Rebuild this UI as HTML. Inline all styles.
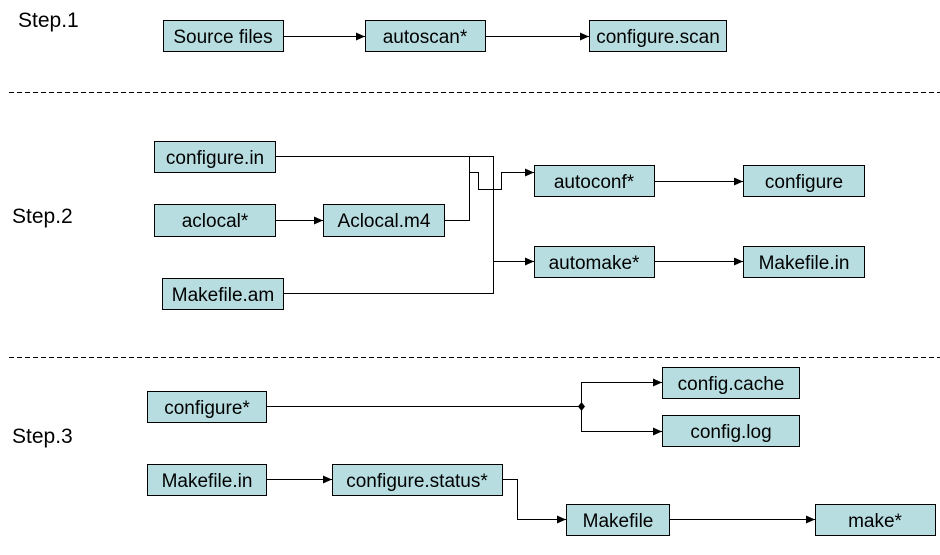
<!DOCTYPE html>
<html><head><meta charset="utf-8"><style>
html,body{margin:0;padding:0;background:#fff;width:940px;height:555px;overflow:hidden}
text{font-family:"Liberation Sans",Arial,sans-serif}
</style></head><body>
<svg width="940" height="555" viewBox="0 0 940 555" xmlns="http://www.w3.org/2000/svg">
<defs>
<marker id="a" markerWidth="10" markerHeight="8" refX="9" refY="4" orient="auto" markerUnits="userSpaceOnUse">
<path d="M0,0 L9,4 L0,8 z" fill="#000"/></marker>
</defs>
<g font-size="21" fill="#000">
<text x="18" y="27">Step.1</text>
<text x="12" y="223">Step.2</text>
<text x="12" y="443">Step.3</text>
</g>
<g stroke="#000" stroke-width="1" stroke-dasharray="5,3">
<line x1="9" y1="92.5" x2="940" y2="92.5"/>
<line x1="9" y1="357.5" x2="940" y2="357.5"/>
</g>
<g fill="#b7dde0" stroke="#000" stroke-width="1">
<rect x="163.5" y="20.5" width="120" height="31"/>
<rect x="365.5" y="20.5" width="120" height="31"/>
<rect x="589.5" y="20.5" width="137" height="31"/>
<rect x="154.5" y="141.5" width="121" height="31"/>
<rect x="154.5" y="204.5" width="121" height="32"/>
<rect x="323.5" y="204.5" width="121" height="32"/>
<rect x="162.5" y="278.5" width="121" height="31"/>
<rect x="534.5" y="165.5" width="120" height="31"/>
<rect x="743.5" y="165.5" width="121" height="31"/>
<rect x="534.5" y="246.5" width="120" height="31"/>
<rect x="743.5" y="246.5" width="121" height="31"/>
<rect x="147.5" y="391.5" width="119" height="31"/>
<rect x="662.5" y="367.5" width="137" height="31"/>
<rect x="662.5" y="415.5" width="137" height="31"/>
<rect x="147.5" y="464.5" width="119" height="31"/>
<rect x="332.5" y="464.5" width="170" height="31"/>
<rect x="566.5" y="504.5" width="103" height="31"/>
<rect x="815.5" y="504.5" width="120" height="31"/>
</g>
<g font-size="19" fill="#000" text-anchor="middle">
<text x="223" y="43">Source files</text>
<text x="425" y="43">autoscan*</text>
<text x="658" y="43">configure.scan</text>
<text x="215" y="164">configure.in</text>
<text x="215" y="227">aclocal*</text>
<text x="384" y="227">Aclocal.m4</text>
<text x="223" y="301">Makefile.am</text>
<text x="594" y="188">autoconf*</text>
<text x="804" y="188">configure</text>
<text x="594" y="269">automake*</text>
<text x="804" y="269">Makefile.in</text>
<text x="207" y="414">configure*</text>
<text x="731" y="390">config.cache</text>
<text x="731" y="438">config.log</text>
<text x="207" y="487">Makefile.in</text>
<text x="417" y="487">configure.status*</text>
<text x="618" y="527">Makefile</text>
<text x="875" y="527">make*</text>
</g>
<g stroke="#000" stroke-width="1" fill="none">
<line x1="283.5" y1="36.5" x2="365" y2="36.5" marker-end="url(#a)"/>
<line x1="485.5" y1="36.5" x2="589" y2="36.5" marker-end="url(#a)"/>
<polyline points="275.5,156.5 493.5,156.5 493.5,293.5 283.5,293.5"/>
<line x1="275.5" y1="220.5" x2="323" y2="220.5" marker-end="url(#a)"/>
<polyline points="444.5,220.5 469.5,220.5 469.5,156.5"/>
<polyline points="469.5,172.5 478.5,172.5 478.5,189.5 501.5,189.5 501.5,172.5 534,172.5" marker-end="url(#a)"/>
<line x1="493.5" y1="261.5" x2="534" y2="261.5" marker-end="url(#a)"/>
<line x1="654.5" y1="181.5" x2="743" y2="181.5" marker-end="url(#a)"/>
<line x1="654.5" y1="261.5" x2="743" y2="261.5" marker-end="url(#a)"/>
<line x1="266.5" y1="406.5" x2="581.5" y2="406.5"/>
<polyline points="662,382.5 581.5,382.5 581.5,431.5 662,431.5"/>
<line x1="600" y1="382.5" x2="662" y2="382.5" marker-end="url(#a)"/>
<line x1="600" y1="431.5" x2="662" y2="431.5" marker-end="url(#a)"/>
<line x1="266.5" y1="479.5" x2="332" y2="479.5" marker-end="url(#a)"/>
<polyline points="502.5,479.5 517.5,479.5 517.5,519.5 566,519.5" marker-end="url(#a)"/>
<line x1="669.5" y1="519.5" x2="815" y2="519.5" marker-end="url(#a)"/>
</g>
<path d="M581.5,402 L585,406.5 L581.5,411 L578,406.5 z" fill="#000"/>
</svg>
</body></html>
